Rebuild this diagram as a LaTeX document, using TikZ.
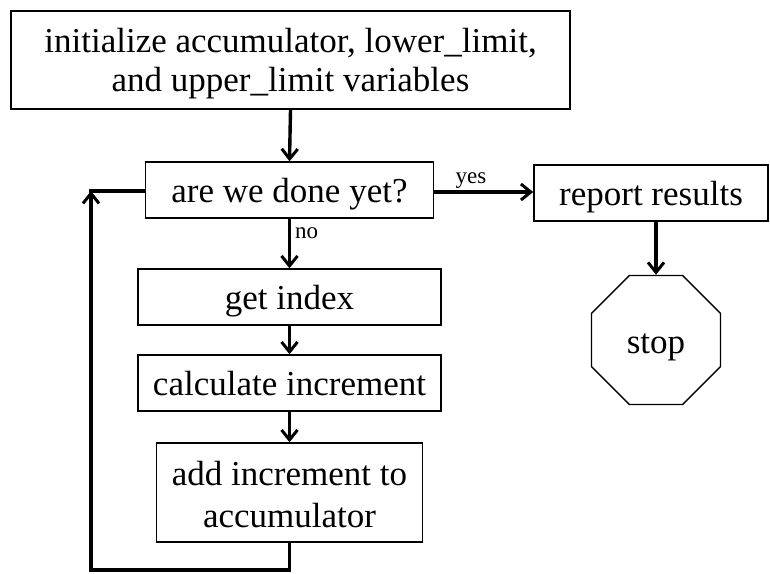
\documentclass[tikz,border=0pt]{standalone}
\usepackage{fontspec}
\setmainfont{Liberation Serif}
\usetikzlibrary{arrows.meta,shapes.geometric}
\begin{document}
\begin{tikzpicture}[x=1pt,y=-1pt,
  box/.style={draw=black,line width=1.4pt,fill=white,inner sep=0pt,align=center,
    font=\fontsize{35}{39}\selectfont,text height=30pt,text depth=6pt},
  mbox/.style={draw=black,line width=1.4pt,fill=white,inner sep=0pt},
  mtext/.style={inner sep=0pt,align=center},
  flow/.style={line width=3.4pt,-{Straight Barb[length=10pt,width=16pt,line width=3pt]}},
  plain/.style={line width=3.4pt},
  lbl/.style={font=\fontsize{23}{26}\selectfont,inner sep=1pt}]
\useasboundingbox (0,0) rectangle (770,573);
\fill[white] (0,0) rectangle (770,573);
\node[mbox,minimum width=559pt,minimum height=98pt] (init) at (290.5,60) {};
\node[mtext,font=\fontsize{35}{39}\selectfont] (initt) at (290.5,64) {initialize accumulator, lower\_limit,\\and upper\_limit variables};
\node[box,minimum width=288pt,minimum height=56pt] (done) at (289.5,190) {are we done yet?};
\node[box,minimum width=234pt,minimum height=56pt] (report) at (651,193) {report results};
\node[box,minimum width=303pt,minimum height=56pt] (get) at (289.5,297) {get index};
\node[box,minimum width=303pt,minimum height=56pt] (calc) at (289.5,383) {calculate increment};
\node[mbox,minimum width=266pt,minimum height=99pt] (add) at (289.5,492.5) {};
\node[mtext,font=\fontsize{35}{42}\selectfont] (addt) at (289.5,495) {add increment to\\accumulator};
\node[box,regular polygon,regular polygon sides=8,minimum size=139.6pt,text height=32pt,text depth=6pt] (stop) at (656,340) {stop};
\coordinate (c1) at (289.5,570);
\coordinate (c2) at (91,570);
\coordinate (c3) at (91,191);
\draw[flow] (done.east |- 0,192) -- node[lbl,above=1pt,pos=0.37] {yes} (report.west |- 0,192);
\draw[flow] (init.south) -- (done.north);
\draw[flow] (done.south) -- node[lbl,right=3pt,pos=0.3] {no} (get.north);
\draw[flow] (get.south) -- (calc.north);
\draw[flow] (calc.south) -- (add.north);
\draw[flow] (stop.north |- report.south) -- (stop.north);
\draw[plain,line join=miter] (add.south) -- (c1) -- (c2) -- ([yshift=-8pt]c3);
\draw[flow] (c2) -- (c3);
\draw[plain] ([xshift=-1.7pt]c3) -- (done.west |- c3);
\end{tikzpicture}
\end{document}
